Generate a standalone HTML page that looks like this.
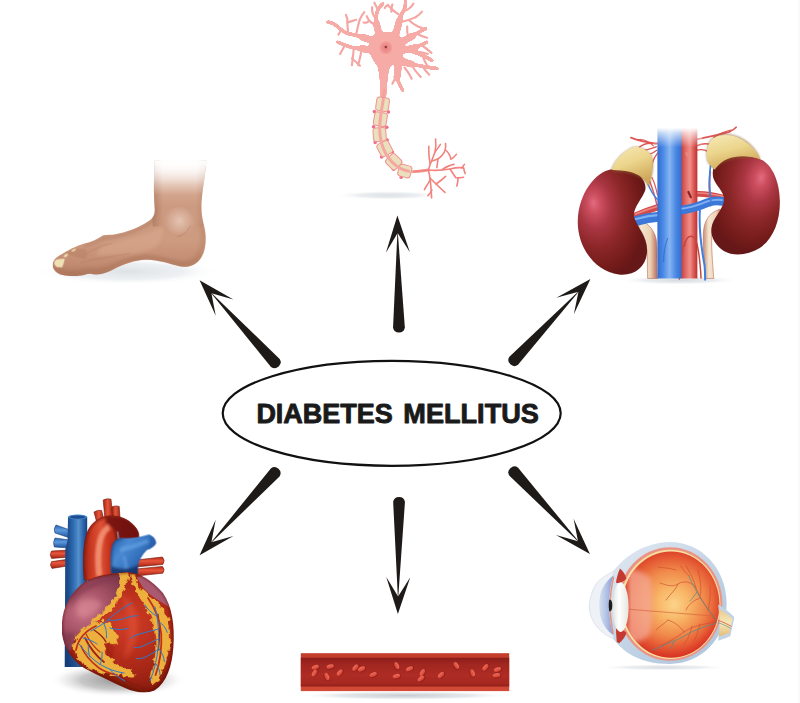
<!DOCTYPE html>
<html lang="en">
<head>
<meta charset="utf-8">
<title>Diabetes Mellitus</title>
<style>
html,body{margin:0;padding:0;background:#fff;}
body{width:800px;height:703px;overflow:hidden;position:relative;}
svg{position:absolute;left:0;top:0;display:block;}
text{font-family:"Liberation Sans",sans-serif;font-weight:bold;}
</style>
</head>
<body>
<svg width="800" height="703" viewBox="0 0 800 703">
<defs>
<g id="arrow">
<path d="M1.5,0 L-35.5,12 L-16,0 L-35.5,-12 Z" fill="#1d1a18"/>
<path d="M-12,0 L-110.6,5.9 A6,6 0 0 1 -110.6,-5.9 Z" fill="#1d1a18"/>
</g>
</defs>
<rect width="800" height="703" fill="#fff"/>
<rect x="798" y="0" width="2" height="703" fill="#fafafa"/>

<!-- ARROWS -->
<g id="arrows">
<use href="#arrow" transform="translate(200.6,281.4) rotate(-132.5)"/>
<use href="#arrow" transform="translate(397.4,217) rotate(-90.8)"/>
<use href="#arrow" transform="translate(589.4,280.1) rotate(-46.8)"/>
<use href="#arrow" transform="translate(200.6,554.1) rotate(132.4)"/>
<use href="#arrow" transform="translate(397.9,612.5) rotate(90.6)"/>
<use href="#arrow" transform="translate(588.9,552.9) rotate(47.2)"/>
</g>

<!-- CENTER -->
<ellipse cx="391.7" cy="413.3" rx="169" ry="52.5" fill="#fff" stroke="#111" stroke-width="2.2"/>
<g font-size="27.6" fill="#1a1a1a" stroke="#1a1a1a" stroke-width="0.9" stroke-linejoin="round"><text x="256.4" y="423.4" textLength="136.4" lengthAdjust="spacingAndGlyphs">DIABETES</text><text x="403.3" y="423.4" textLength="135.6" lengthAdjust="spacingAndGlyphs">MELLITUS</text></g>

<!-- FOOT -->
<g id="foot" transform="translate(40,150) scale(0.225)">
<defs>
<radialGradient id="ftShadow" cx="0.5" cy="0.5" r="0.5">
<stop offset="0" stop-color="#cfd6dc" stop-opacity="0.95"/>
<stop offset="0.6" stop-color="#dde3e8" stop-opacity="0.7"/>
<stop offset="1" stop-color="#ffffff" stop-opacity="0"/>
</radialGradient>
<linearGradient id="ftSkin" gradientUnits="userSpaceOnUse" x1="0" y1="40" x2="0" y2="560">
<stop offset="0" stop-color="#ffffff"/>
<stop offset="0.08" stop-color="#f3e3da"/>
<stop offset="0.22" stop-color="#d9ae97"/>
<stop offset="0.4" stop-color="#cc9a80"/>
<stop offset="0.7" stop-color="#cd9b80"/>
<stop offset="0.9" stop-color="#c18b70"/>
<stop offset="1" stop-color="#b27a60"/>
</linearGradient>
<radialGradient id="ftAnkle" gradientUnits="userSpaceOnUse" cx="620" cy="315" r="70">
<stop offset="0" stop-color="#ecd0c2" stop-opacity="0.95"/>
<stop offset="1" stop-color="#ecd0c2" stop-opacity="0"/>
</radialGradient>
<linearGradient id="ftLegSide" gradientUnits="userSpaceOnUse" x1="505" y1="0" x2="740" y2="0">
<stop offset="0" stop-color="#a8735a" stop-opacity="0.55"/>
<stop offset="0.18" stop-color="#a8735a" stop-opacity="0"/>
<stop offset="0.8" stop-color="#a8735a" stop-opacity="0"/>
<stop offset="1" stop-color="#a8735a" stop-opacity="0.5"/>
</linearGradient>
<linearGradient id="ftLegFade" gradientUnits="userSpaceOnUse" x1="0" y1="45" x2="0" y2="200">
<stop offset="0" stop-color="#fff" stop-opacity="1"/>
<stop offset="0.3" stop-color="#fff" stop-opacity="0.75"/>
<stop offset="1" stop-color="#fff" stop-opacity="0"/>
</linearGradient>
<filter id="ftBlur" x="-20%" y="-20%" width="140%" height="140%"><feGaussianBlur stdDeviation="7"/></filter>
<clipPath id="ftClip"><path d="M510,45 C505,120 505,200 510,260 C512,290 500,305 480,318 C440,345 385,366 330,376 C305,380 290,374 272,384 C255,396 228,408 198,416 C162,425 122,448 92,466 C70,478 56,494 56,510 C56,532 74,550 100,556 C130,563 170,562 200,554 C215,549 226,550 242,553 C272,557 302,544 332,528 C372,507 420,490 470,488 C520,486 570,505 620,517 C660,525 695,512 715,480 C735,450 742,400 732,350 C722,310 715,280 718,230 C722,170 735,110 740,45 Z"/></clipPath>
</defs>
<ellipse cx="390" cy="540" rx="410" ry="60" fill="url(#ftShadow)" opacity="0.75"/>
<g clip-path="url(#ftClip)">
<rect x="40" y="40" width="720" height="540" fill="url(#ftSkin)"/>
<rect x="500" y="40" width="250" height="300" fill="url(#ftLegSide)"/>
<g filter="url(#ftBlur)"><!-- underside shadows -->
<path d="M58,510 C58,530 75,548 100,553 C130,560 170,558 200,550 C215,545 225,546 240,548 C270,552 300,540 330,525 C370,505 420,490 470,488 C520,486 570,505 620,517 C660,525 695,512 715,480 L715,450 C690,490 650,500 610,492 C560,482 510,462 460,465 C410,468 360,490 320,505 C290,520 260,530 235,526 C215,524 190,535 160,536 C120,538 80,530 58,510 Z" fill="#a9725a" opacity="0.55"/>
<path d="M510,260 C512,290 500,305 480,318 C440,345 380,368 320,380 C300,384 285,380 270,390 C250,402 225,412 195,420 L200,432 C240,420 270,405 300,398 C360,390 440,365 500,325 C520,310 525,280 522,250 Z" fill="#b07a62" opacity="0.5"/>
<!-- heel shading -->
<path d="M735,340 C745,400 740,460 700,505 C680,520 650,520 620,517 C660,500 700,470 710,420 C715,390 715,360 705,330 Z" fill="#b98368" opacity="0.5"/>
<!-- highlight top of foot -->
<path d="M300,420 C380,400 470,380 540,340 C560,380 540,430 470,450 C400,465 320,470 250,470 C250,450 270,430 300,420 Z" fill="#d9aa90" opacity="0.5"/>
</g><ellipse cx="620" cy="315" rx="70" ry="62" fill="url(#ftAnkle)" opacity="0.8"/>
<path d="M610,385 C640,375 660,360 668,335" fill="none" stroke="#a8745c" stroke-width="3" opacity="0.7"/>
<!-- toes -->
<path d="M110,460 C140,445 170,438 200,440 C215,450 215,470 200,485 C180,480 150,470 110,460 Z" fill="#b98268" opacity="0.6"/>
<path d="M180,500 C260,480 330,470 400,460" fill="none" stroke="#b07a60" stroke-width="4" opacity="0.45"/>
<path d="M215,455 C260,430 290,420 320,415" fill="none" stroke="#b07a60" stroke-width="4" opacity="0.45"/>
<rect x="40" y="40" width="720" height="170" fill="url(#ftLegFade)"/>
</g>
<!-- nails -->
<path d="M64,498 C66,490 74,486 84,485 L110,483 C108,496 104,510 99,521 L76,520 C68,518 62,508 64,498 Z" fill="#f0e0b6"/>
<path d="M104,474 C106,466 114,461 125,460 C124,467 120,473 114,477 Z" fill="#eedcb0"/>
<path d="M139,450 C142,443 150,439 161,439 C159,445 153,449 146,451 Z" fill="#eedcb0"/>
</g>

<!-- NEURON -->
<g id="neuron">
<defs>
<radialGradient id="nrShadow" cx="0.5" cy="0.5" r="0.5">
<stop offset="0" stop-color="#c9cfd5" stop-opacity="1"/>
<stop offset="0.55" stop-color="#d6dbe0" stop-opacity="0.8"/>
<stop offset="1" stop-color="#ffffff" stop-opacity="0"/>
</radialGradient>
<radialGradient id="nrNuc" cx="0.5" cy="0.5" r="0.5">
<stop offset="0" stop-color="#e8807f"/>
<stop offset="0.7" stop-color="#ef9391"/>
<stop offset="1" stop-color="#f4a6a2"/>
</radialGradient>
<filter id="nrGoo" x="-10%" y="-10%" width="120%" height="120%" color-interpolation-filters="sRGB"><feGaussianBlur in="SourceGraphic" stdDeviation="7" result="b"/><feColorMatrix in="b" mode="matrix" values="1 0 0 0 0  0 1 0 0 0  0 0 1 0 0  0 0 0 18 -7.5"/></filter>
</defs>
<ellipse cx="388" cy="195.3" rx="54" ry="4.5" fill="url(#nrShadow)" opacity="0.62"/>
<!-- soma + dendrites : zoom coords region [310,0]-scale 4.444 -->
<g transform="translate(310,0) scale(0.225)" fill="none" stroke="#f6aba7" stroke-linecap="round" stroke-linejoin="round">
<g stroke-width="9.5" stroke="#f5a6a2">
<path d="M170,150 C168,130 165,105 166,85 C164,78 162,72 160,66"/>
<path d="M205,156 C210,130 215,105 222,85 C228,72 235,62 241,54"/>
<path d="M140,132 C135,140 130,148 126,154"/>
<path d="M166,100 C180,95 195,92 205,88"/>
<path d="M155,200 C148,215 140,228 134,240"/>
<path d="M195,213 C192,240 190,265 186,290"/>
<path d="M230,220 C225,245 220,268 214,290"/>
<path d="M186,260 C200,270 210,280 222,292"/>
<path d="M294,85 C282,72 274,55 276,32"/>
<path d="M298,115 C280,108 262,98 252,72"/>
<path d="M302,42 C296,32 290,22 286,12"/>
<path d="M260,95 C255,100 245,102 238,100"/>
<path d="M402,70 C385,58 365,45 346,22"/>
<path d="M414,52 C432,46 448,38 460,16"/>
<path d="M396,100 C420,95 445,88 470,76"/>
<path d="M440,90 C450,100 465,110 480,118 C492,124 505,128 516,130"/>
<path d="M470,76 C480,70 490,62 498,52"/>
<path d="M438,168 C432,150 430,135 432,118"/>
<path d="M475,150 C490,158 505,165 520,168"/>
<path d="M495,200 C510,210 525,222 540,235"/>
<path d="M480,230 C495,232 510,236 524,240"/>
<path d="M500,245 C505,262 512,278 520,290"/>
<path d="M450,285 C460,305 475,325 492,342"/>
<path d="M500,295 C510,310 520,322 530,332"/>
<path d="M386,335 C378,348 372,360 366,372"/>
<path d="M420,300 C435,318 445,335 452,350"/>
<path d="M346,22 C340,25 335,30 332,36"/>
<path d="M362,52 C360,40 362,30 366,20"/>
</g>
<g filter="url(#nrGoo)"><!-- thick trunks -->
<g stroke-width="30">
<path d="M300,190 C280,180 260,172 235,166"/>
<path d="M290,225 C270,222 250,218 228,216"/>
<path d="M312,170 C305,145 298,125 296,105"/>
<path d="M375,170 C385,140 392,115 398,90"/>
<path d="M395,195 C415,182 435,172 455,160"/>
<path d="M400,225 C425,222 445,218 465,212"/>
<path d="M385,255 C405,270 425,280 450,285"/>
<path d="M388,268 C394,295 392,320 386,345"/>
</g>
<g stroke-width="15">
<path d="M235,166 C210,158 190,152 170,150 C150,146 130,125 110,108 C98,100 88,98 76,98"/>
<path d="M228,216 C200,215 175,210 155,200 C140,195 130,190 120,186"/>
<path d="M296,105 C292,85 294,60 302,42 C308,30 318,22 326,14"/>
<path d="M398,90 C402,70 410,55 420,40 C425,28 426,15 424,2"/>
<path d="M455,160 C475,150 495,135 516,126"/>
<path d="M465,212 C485,206 505,195 522,186"/>
<path d="M450,285 C480,292 520,298 568,306"/>
<path d="M386,345 C392,365 402,385 414,405"/>
<path d="M430,222 C470,232 510,250 545,270"/>
</g>
<!-- soma -->
<path d="M285,155 C310,138 360,138 390,155 C415,172 420,215 410,242 C400,268 372,280 354,298 C344,335 342,385 338,440 L314,440 C314,385 310,330 300,292 C282,272 268,248 266,222 C264,195 270,172 285,155 Z" fill="#f6aba7" stroke="none"/>
</g>
<circle cx="337" cy="212" r="30" fill="url(#nrNuc)" stroke="none"/>
<circle cx="337" cy="209" r="5.5" fill="#8e3c3c" stroke="none"/>
</g>
<!-- axon + terminal : region [330,90] scale 5 -->
<g transform="translate(330,90) scale(0.2)" fill="none" stroke-linecap="round" stroke-linejoin="round">
<path d="M272,0 C268,20 266,40 264,60 C250,140 230,230 280,320 C310,370 350,400 400,408 C430,410 460,405 490,400" stroke="#f5a19c" stroke-width="14"/>
<!-- terminal -->
<g stroke="#f2827e" stroke-width="8">
<path d="M420,408 C450,406 470,402 492,400 C530,404 570,400 600,395 C630,388 650,386 668,390"/>
<path d="M492,400 C500,370 515,340 525,310 C530,290 530,265 528,245"/>
<path d="M500,368 C495,340 492,310 494,282"/>
<path d="M525,310 C535,295 545,285 552,272"/>
<path d="M510,355 C530,350 550,340 562,325 C575,310 580,290 578,268"/>
<path d="M540,345 C538,360 536,375 534,388"/>
<path d="M578,300 C590,310 600,325 604,345"/>
<path d="M604,345 C615,340 625,332 632,322"/>
<path d="M560,398 C580,385 600,375 620,372"/>
<path d="M600,395 C610,410 620,425 628,438 C640,440 655,438 668,436"/>
<path d="M640,440 C640,455 638,468 634,480"/>
<path d="M668,390 C670,400 672,410 676,418"/>
<path d="M660,388 C664,382 668,378 672,372"/>
<path d="M492,400 C500,430 505,470 508,540"/>
<path d="M500,440 C520,460 545,485 575,512"/>
<path d="M500,450 C490,470 480,485 472,498"/>
<path d="M530,470 C545,460 560,450 578,432"/>
<path d="M510,500 C505,510 498,520 490,528"/>
</g>
<!-- myelin nodes -->
<g fill="#ee6f86" stroke="none">
<circle cx="222" cy="108" r="9"/><circle cx="292" cy="110" r="9"/>
<circle cx="218" cy="184" r="9"/><circle cx="284" cy="186" r="9"/>
<circle cx="226" cy="262" r="9"/><circle cx="286" cy="250" r="9"/>
<circle cx="258" cy="335" r="9"/><circle cx="312" cy="310" r="9"/>
<circle cx="318" cy="396" r="9"/><circle cx="352" cy="360" r="9"/>
<circle cx="356" cy="436" r="9"/>
</g>
<!-- myelin segments -->
<g stroke="#ef9491" stroke-width="5" fill="#ebe0bd">
<rect x="-32" y="-33" width="64" height="68" rx="15" transform="translate(263,70) rotate(8)"/>
<rect x="-32" y="-33" width="64" height="68" rx="15" transform="translate(252,145) rotate(10)"/>
<rect x="-32" y="-33" width="64" height="68" rx="15" transform="translate(248,222) rotate(-4)"/>
<rect x="-32" y="-33" width="64" height="68" rx="15" transform="translate(273,292) rotate(-28)"/>
<rect x="-32" y="-33" width="64" height="68" rx="15" transform="translate(318,358) rotate(-45)"/>
<rect x="-30" y="-32" width="60" height="64" rx="14" transform="translate(374,405) rotate(-75)"/>
</g>
<path d="M268,40 C250,140 230,230 280,320 C310,370 350,400 400,408" stroke="#f5a8a2" stroke-width="15" stroke-linecap="butt"/>
</g>
</g>
<!-- KIDNEYS -->
<g id="kidneys" transform="translate(570,110) scale(0.2875)">
<defs>
<radialGradient id="kdShadow" cx="0.5" cy="0.5" r="0.5">
<stop offset="0" stop-color="#cfd5da" stop-opacity="0.9"/>
<stop offset="0.6" stop-color="#dfe3e7" stop-opacity="0.6"/>
<stop offset="1" stop-color="#ffffff" stop-opacity="0"/>
</radialGradient>
<linearGradient id="kdVein" gradientUnits="userSpaceOnUse" x1="303" y1="0" x2="390" y2="0">
<stop offset="0" stop-color="#2f6bd0"/>
<stop offset="0.25" stop-color="#4c8be6"/>
<stop offset="0.5" stop-color="#86b4f2"/>
<stop offset="0.75" stop-color="#4a88e4"/>
<stop offset="1" stop-color="#2f6bd0"/>
</linearGradient>
<linearGradient id="kdArt" gradientUnits="userSpaceOnUse" x1="385" y1="0" x2="443" y2="0">
<stop offset="0" stop-color="#c23a3a"/>
<stop offset="0.3" stop-color="#e06a66"/>
<stop offset="0.55" stop-color="#f08f86"/>
<stop offset="0.8" stop-color="#d95552"/>
<stop offset="1" stop-color="#b93232"/>
</linearGradient>
<linearGradient id="kdTopFade" gradientUnits="userSpaceOnUse" x1="0" y1="62" x2="0" y2="130">
<stop offset="0" stop-color="#fff" stop-opacity="1"/>
<stop offset="0.25" stop-color="#fff" stop-opacity="0.7"/>
<stop offset="1" stop-color="#fff" stop-opacity="0"/>
</linearGradient>
<radialGradient id="kdL" gradientUnits="userSpaceOnUse" cx="0" cy="0" r="1" fx="-0.05" fy="-0.05" gradientTransform="translate(92,335) rotate(-8) scale(170,250)">
<stop offset="0" stop-color="#e26a80"/>
<stop offset="0.14" stop-color="#cb4d5d"/>
<stop offset="0.34" stop-color="#a93642"/>
<stop offset="0.6" stop-color="#8b2627"/>
<stop offset="0.85" stop-color="#751c1b"/>
<stop offset="1" stop-color="#661717"/>
</radialGradient>
<radialGradient id="kdR" gradientUnits="userSpaceOnUse" cx="0" cy="0" r="1" fx="0.05" fy="-0.05" gradientTransform="translate(655,245) rotate(12) scale(165,250)">
<stop offset="0" stop-color="#e26a80"/>
<stop offset="0.14" stop-color="#cb4d5d"/>
<stop offset="0.34" stop-color="#a93642"/>
<stop offset="0.6" stop-color="#8b2627"/>
<stop offset="0.85" stop-color="#751c1b"/>
<stop offset="1" stop-color="#661717"/>
</radialGradient>
<linearGradient id="kdAdr" x1="0" y1="0" x2="0.4" y2="1">
<stop offset="0" stop-color="#f6ebb8"/>
<stop offset="0.5" stop-color="#ecd58c"/>
<stop offset="1" stop-color="#cfa85a"/>
</linearGradient>
<linearGradient id="kdUr" x1="0" y1="0" x2="1" y2="0">
<stop offset="0" stop-color="#c98a70"/>
<stop offset="0.3" stop-color="#f5e6d0"/>
<stop offset="0.7" stop-color="#ecd2b4"/>
<stop offset="1" stop-color="#b86a5a"/>
</linearGradient>
<filter id="kdBlur2" x="-30%" y="-30%" width="160%" height="160%"><feGaussianBlur stdDeviation="4"/></filter>
<filter id="kdBlur" x="-30%" y="-30%" width="160%" height="160%"><feGaussianBlur stdDeviation="10"/></filter>
</defs>
<ellipse cx="380" cy="592" rx="210" ry="16" fill="url(#kdShadow)"/>
<!-- ureters -->
<path d="M228,378 C262,385 292,410 300,450 C306,490 300,540 304,586 L270,586 C268,540 272,495 262,455 C254,425 240,410 222,400 Z" fill="url(#kdUr)" stroke="#b5695a" stroke-width="2"/>
<path d="M522,345 C495,352 470,375 465,415 C460,460 468,530 470,586 L500,586 C496,530 490,465 494,425 C498,395 510,378 528,368 Z" fill="url(#kdUr)" stroke="#b5695a" stroke-width="2"/>
<!-- small vessels to adrenals / kidneys -->
<g fill="none" stroke="#de5755" stroke-linecap="round">
<path d="M385,112 C340,120 290,118 250,108 C235,104 222,100 212,96" stroke-width="6"/>
<path d="M300,118 C275,112 255,118 240,130" stroke-width="5"/>
<path d="M300,128 C280,135 262,142 248,140" stroke-width="5"/>
<path d="M302,140 C288,150 275,158 262,156" stroke-width="5"/>
<path d="M305,150 C292,165 284,185 282,210" stroke-width="5"/>
<path d="M290,125 C270,105 250,100 235,104" stroke-width="4"/>
<path d="M274,240 C286,270 296,300 302,330" stroke-width="5"/>
<path d="M285,235 C295,255 300,275 304,295" stroke-width="4"/>
<path d="M440,102 C480,94 520,86 555,76 C565,71 572,66 578,60" stroke-width="6"/>
<path d="M440,125 C460,116 478,116 492,122" stroke-width="5"/>
<path d="M440,140 C455,136 470,138 482,146" stroke-width="5"/>
<path d="M500,95 C520,82 540,74 560,70" stroke-width="4"/>
<path d="M488,215 C484,245 482,275 488,300" stroke-width="6"/>
</g>
<!-- renal arteries -->
<path d="M390,318 C350,325 290,340 225,368" fill="none" stroke="#d24b4a" stroke-width="22" stroke-linecap="round"/>
<path d="M390,316 C350,322 290,336 228,362" fill="none" stroke="#ee8580" stroke-width="6" stroke-linecap="round"/>
<path d="M438,292 C470,290 500,296 535,305" fill="none" stroke="#d24b4a" stroke-width="20" stroke-linecap="round"/>
<path d="M438,289 C470,287 500,293 535,301" fill="none" stroke="#ee8580" stroke-width="5" stroke-linecap="round"/>
<!-- aorta -->
<rect x="385" y="62" width="58" height="524" fill="url(#kdArt)"/>
<path d="M398,475 C402,440 422,428 436,450 C446,470 452,520 456,586" fill="none" stroke="#c4453d" stroke-width="5"/>
<path d="M395,470 C388,500 386,540 380,590" fill="none" stroke="#c8473f" stroke-width="5"/>
<path d="M412,285 l8,18" stroke="#8d2626" stroke-width="8" stroke-linecap="round"/>
<path d="M405,150 l8,14" stroke="#e88a80" stroke-width="8" stroke-linecap="round"/>
<!-- renal veins -->
<path d="M320,370 C290,372 255,378 222,388" fill="none" stroke="#3b78d8" stroke-width="34" stroke-linecap="round"/>
<path d="M320,364 C290,366 255,372 226,380" fill="none" stroke="#7fb0f2" stroke-width="8" stroke-linecap="round"/>
<path d="M370,350 C410,348 450,335 480,322 C500,315 515,315 530,318" fill="none" stroke="#3b78d8" stroke-width="30" stroke-linecap="round"/>
<path d="M370,345 C410,343 450,330 480,317 C500,311 515,311 528,313" fill="none" stroke="#7fb0f2" stroke-width="7" stroke-linecap="round"/>
<path d="M452,345 C448,400 455,470 468,540 C470,560 470,575 470,590" fill="none" stroke="#3f7fe0" stroke-width="7" stroke-linecap="round"/>
<!-- vena cava -->
<rect x="304" y="62" width="84" height="524" fill="url(#kdVein)"/>
<path d="M340,445 C330,470 325,500 326,530" fill="none" stroke="#2f60b8" stroke-width="2.5"/>
<g fill="none" stroke="#3f7fe0" stroke-linecap="round">
<path d="M270,255 C280,280 292,300 305,312" stroke-width="5"/>
<path d="M495,165 C485,200 482,250 490,320" stroke-width="6"/>
<path d="M486,185 C492,175 498,170 505,166" stroke-width="4"/>
</g>
<!-- kidneys -->
<path d="M145,206 C88,215 30,290 27,385 C25,470 80,560 170,572 C225,578 266,545 268,492 C270,445 238,412 224,376 C214,345 250,312 262,278 C268,252 240,212 200,203 C180,199 162,201 145,206 Z" fill="url(#kdL)"/>
<path d="M510,185 C550,155 620,150 670,175 C710,200 730,260 730,320 C730,390 705,450 660,480 C620,505 570,510 535,490 C505,470 488,440 492,410 C497,375 530,350 536,315 C538,285 505,262 498,235 C494,212 498,195 510,185 Z" fill="url(#kdR)"/>
<!-- adrenal glands -->
<path d="M143,212 C150,180 182,148 212,132 C235,120 266,136 284,158 C294,185 288,228 274,270 C264,246 240,230 210,222 C186,216 165,216 143,212 Z" fill="#8a5a2a" opacity="0.6" filter="url(#kdBlur2)"/>
<path d="M145,208 C152,178 184,146 214,131 C236,121 266,137 284,158 C293,185 286,225 272,264 C262,240 240,224 210,216 C188,210 166,211 145,208 Z" fill="url(#kdAdr)"/>
<path d="M476,172 C472,140 478,112 498,96 C530,76 572,82 604,102 C630,118 650,140 662,168 C625,164 582,166 552,176 C532,182 516,192 503,206 C492,198 480,186 476,172 Z" fill="#8a5a2a" opacity="0.6" filter="url(#kdBlur2)"/>
<path d="M477,172 C473,140 479,113 499,98 C530,80 571,85 602,105 C630,122 650,145 664,172 C625,158 580,158 548,170 C530,177 515,190 503,208 C492,198 481,186 477,172 Z" fill="url(#kdAdr)"/>
<!-- top fade for vessels -->
<rect x="290" y="55" width="170" height="80" fill="url(#kdTopFade)"/>
</g>

<!-- HEART -->
<g id="heart" transform="translate(40,490) scale(0.2)">
<defs>
<radialGradient id="htShadow" cx="0.5" cy="0.5" r="0.5">
<stop offset="0" stop-color="#8f8f8f" stop-opacity="0.95"/>
<stop offset="0.55" stop-color="#b5b5b5" stop-opacity="0.75"/>
<stop offset="0.8" stop-color="#dcdcdc" stop-opacity="0.4"/>
<stop offset="1" stop-color="#ffffff" stop-opacity="0"/>
</radialGradient>
<linearGradient id="htSvc" gradientUnits="userSpaceOnUse" x1="138" y1="0" x2="238" y2="0">
<stop offset="0" stop-color="#1c4a88"/>
<stop offset="0.3" stop-color="#2f6eb4"/>
<stop offset="0.55" stop-color="#5590cc"/>
<stop offset="0.8" stop-color="#2a62a8"/>
<stop offset="1" stop-color="#173f7a"/>
</linearGradient>
<linearGradient id="htSvcDark" gradientUnits="userSpaceOnUse" x1="0" y1="500" x2="0" y2="885"><stop offset="0" stop-color="#12326a" stop-opacity="0"/><stop offset="1" stop-color="#12326a" stop-opacity="0.6"/></linearGradient>
<linearGradient id="htBlueStub" x1="0" y1="0" x2="0" y2="1">
<stop offset="0" stop-color="#2a64b0"/>
<stop offset="0.4" stop-color="#5c98dc"/>
<stop offset="1" stop-color="#1d5098"/>
</linearGradient>
<linearGradient id="htRedStub" x1="0" y1="0" x2="0" y2="1">
<stop offset="0" stop-color="#b52a18"/>
<stop offset="0.4" stop-color="#e8553a"/>
<stop offset="1" stop-color="#a42314"/>
</linearGradient>
<linearGradient id="htAorta" gradientUnits="userSpaceOnUse" x1="218" y1="0" x2="500" y2="0">
<stop offset="0" stop-color="#a32414"/>
<stop offset="0.15" stop-color="#cc3c24"/>
<stop offset="0.3" stop-color="#dd5236"/>
<stop offset="0.45" stop-color="#c6341e"/>
<stop offset="0.7" stop-color="#9c2012"/>
<stop offset="1" stop-color="#7e170c"/>
</linearGradient>
<linearGradient id="htBr" x1="0" y1="0" x2="1" y2="0">
<stop offset="0" stop-color="#a52414"/>
<stop offset="0.45" stop-color="#e5553a"/>
<stop offset="1" stop-color="#9c2012"/>
</linearGradient>
<linearGradient id="htPulm" gradientUnits="userSpaceOnUse" x1="355" y1="250" x2="560" y2="400">
<stop offset="0" stop-color="#2a62ae"/>
<stop offset="0.3" stop-color="#4a8ad2"/>
<stop offset="0.6" stop-color="#3672bd"/>
<stop offset="1" stop-color="#1a4688"/>
</linearGradient>
<radialGradient id="htVent" gradientUnits="userSpaceOnUse" cx="430" cy="660" r="420">
<stop offset="0" stop-color="#d03f28"/>
<stop offset="0.35" stop-color="#bb301d"/>
<stop offset="0.7" stop-color="#9c2314"/>
<stop offset="1" stop-color="#78160c"/>
</radialGradient>
<radialGradient id="htAtr" gradientUnits="userSpaceOnUse" cx="220" cy="600" r="230">
<stop offset="0" stop-color="#c87486"/>
<stop offset="0.5" stop-color="#a85468"/>
<stop offset="1" stop-color="#7e384b"/>
</radialGradient>
<filter id="htBlur" x="-30%" y="-30%" width="160%" height="160%"><feGaussianBlur stdDeviation="12"/></filter>
<filter id="htBlur2" x="-30%" y="-30%" width="160%" height="160%"><feGaussianBlur stdDeviation="5"/></filter>
<filter id="htRough" x="-10%" y="-10%" width="120%" height="120%"><feTurbulence type="fractalNoise" baseFrequency="0.035" numOctaves="2" seed="4" result="n"/><feDisplacementMap in="SourceGraphic" in2="n" scale="38" xChannelSelector="R" yChannelSelector="G"/></filter>
<clipPath id="htAoClip"><path d="M222,450 C215,380 215,300 228,240 C240,180 280,140 340,130 C400,125 450,150 480,190 C495,210 498,230 492,250 L380,260 L370,450 Z"/></clipPath>
<clipPath id="htPuClip"><path d="M356,420 C352,370 350,320 360,280 C368,255 385,240 410,240 C450,245 500,235 545,222 C570,232 582,250 580,268 C570,285 550,295 535,300 C510,325 495,350 490,380 L488,430 Z"/></clipPath>
<clipPath id="htClip"><path d="M110,660 C115,590 150,510 230,455 C290,425 360,415 440,410 C500,415 560,450 615,515 C660,580 675,680 667,785 C660,880 635,962 572,1003 C532,1020 476,1014 425,990 C360,960 290,928 220,890 C160,852 120,790 110,720 Z"/></clipPath>
</defs>
<!-- shadow -->
<ellipse cx="390" cy="950" rx="340" ry="85" fill="url(#htShadow)"/>
<!-- left stubs -->
<g stroke="#173f7a" stroke-width="3" stroke-linejoin="round">
<path d="M80,175 L150,200 L150,240 L75,215 Q65,195 80,175 Z" fill="url(#htBlueStub)"/>
<path d="M75,240 L150,250 L150,290 L72,285 Q62,262 75,240 Z" fill="url(#htBlueStub)"/></g>
<g stroke="#6e150c" stroke-width="3" stroke-linejoin="round">
<path d="M58,305 L150,300 L150,335 L58,342 Q45,323 58,305 Z" fill="url(#htRedStub)"/>
<path d="M58,358 L150,345 L150,378 L60,392 Q46,375 58,358 Z" fill="url(#htRedStub)"/></g>
<!-- SVC -->
<path d="M140,135 L138,250 L126,300 L124,885 L236,885 L236,135 Z" fill="url(#htSvc)"/>
<path d="M124,500 L124,885 L236,885 L236,500 Z" fill="url(#htSvcDark)"/>
<ellipse cx="188" cy="135" rx="48" ry="13" fill="#3f80c8"/>
<ellipse cx="188" cy="136" rx="38" ry="8" fill="#1c4d90"/>
<!-- right red stubs -->
<g stroke="#6e150c" stroke-width="3" stroke-linejoin="round">
<path d="M480,350 L612,335 Q628,352 614,372 L480,385 Z" fill="url(#htRedStub)"/>
<path d="M480,395 L612,382 Q628,398 614,416 L480,430 Z" fill="url(#htRedStub)"/></g>
<!-- aorta branches -->
<g stroke="#6e150c" stroke-width="3" stroke-linejoin="round"><path d="M270,110 Q288,98 308,102 L324,165 L286,170 Z" fill="url(#htBr)"/>
<path d="M316,50 Q335,40 355,46 L366,155 L326,160 Z" fill="url(#htBr)"/>
<path d="M360,84 Q378,76 396,82 L402,165 L364,165 Z" fill="url(#htBr)"/></g>
<!-- aorta -->
<path d="M222,450 C215,380 215,300 228,240 C240,180 280,140 340,130 C400,125 450,150 480,190 C495,210 498,230 492,250 L380,260 L370,450 Z" fill="url(#htAorta)" stroke="#6e150c" stroke-width="3"/>
<g clip-path="url(#htAoClip)">
<g filter="url(#htBlur2)">
<path d="M330,130 C400,125 450,150 480,190 C495,210 498,230 492,250 L380,260 C385,220 370,180 330,165 Z" fill="#6a120a" opacity="0.8"/>
<path d="M222,450 C215,380 215,300 228,240 C240,180 280,140 340,130" fill="none" stroke="#7a170d" stroke-width="16" opacity="0.7"/>
<path d="M296,430 C288,360 288,300 301,250 C311,215 326,195 346,185" fill="none" stroke="#f59a7c" stroke-width="30" opacity="0.8"/>
<path d="M372,450 C366,380 366,320 372,270" fill="none" stroke="#7a170d" stroke-width="20" opacity="0.6"/>
</g></g>
<!-- pulmonary artery -->
<path d="M356,420 C352,370 350,320 360,280 C368,255 385,240 410,240 C450,245 500,235 545,222 C570,232 582,250 580,268 C570,285 550,295 535,300 C510,325 495,350 490,380 L488,430 Z" fill="url(#htPulm)"/>
<g clip-path="url(#htPuClip)"><g filter="url(#htBlur2)">
<path d="M350,440 L350,380 C400,400 450,400 500,370 L500,440 Z" fill="#0f2a5c" opacity="0.75"/>
<path d="M356,420 C352,370 350,320 360,280 C368,255 385,240 410,240" fill="none" stroke="#173f7d" stroke-width="14" opacity="0.7"/>
<path d="M400,300 C440,290 490,275 540,255" fill="none" stroke="#6aa6ea" stroke-width="22" opacity="0.6"/>
<path d="M420,330 C425,350 430,370 432,390" fill="none" stroke="#6aa6ea" stroke-width="18" opacity="0.5"/>
</g>
<path d="M548,224 C572,236 584,252 580,268 C572,282 556,292 540,298 C552,276 556,250 548,224 Z" fill="#2a62ae" opacity="0.8"/>
</g>
<path d="M388,210 L392,240" stroke="#9aa8b8" stroke-width="6" stroke-linecap="round"/>
<!-- heart body -->
<g clip-path="url(#htClip)">
<rect x="90" y="400" width="600" height="630" fill="url(#htVent)"/>
<!-- ventricle shading -->
<g filter="url(#htBlur)">
<path d="M665,600 C690,700 680,850 620,950 C600,980 570,1000 540,1005 L700,1040 L720,560 Z" fill="#5c0f08" opacity="0.6"/>
<path d="M300,880 C380,930 460,980 540,1000 L540,1040 L250,1040 Z" fill="#6a120a" opacity="0.5"/>
<path d="M400,520 C440,580 450,660 440,740 C435,780 425,820 420,850 C450,820 480,770 488,700 C492,620 470,560 400,520 Z" fill="#e8583c" opacity="0.5"/>
<path d="M330,700 C360,760 350,820 340,850" fill="none" stroke="#7c160c" stroke-width="22" opacity="0.45"/>
</g>
<!-- atria -->
<path d="M100,760 C95,700 115,590 150,515 C190,460 290,425 405,420 C412,455 404,495 388,530 C368,570 335,612 295,648 C255,678 215,698 190,718 C170,745 160,775 152,805 C125,795 105,780 100,760 Z" fill="url(#htAtr)"/>
<path d="M485,435 C520,425 565,445 600,490 C625,522 640,555 645,585 C615,565 580,545 550,522 C522,500 500,470 485,435 Z" fill="#a95a70"/>
<g filter="url(#htBlur)" opacity="0.6">
<path d="M150,520 C200,470 290,440 390,430 C370,450 300,470 240,500 C200,520 170,560 150,600 Z" fill="#7c3248"/>
<path d="M105,700 C110,750 130,790 150,800 C155,770 165,740 185,710 C160,720 130,720 105,700 Z" fill="#7c3248"/>
<path d="M200,560 C240,540 290,540 310,570 C290,610 240,640 200,640 C180,620 180,580 200,560 Z" fill="#d98a98"/>
</g>
<!-- fat -->
<g fill="#edb03c" stroke="#edb03c" stroke-width="2" stroke-linejoin="round" filter="url(#htRough)">
<path d="M398,420 C410,416 432,416 442,422 C438,445 430,465 422,485 C414,510 402,535 387,560 C370,585 347,608 322,628 C302,645 277,660 257,672 C247,668 250,655 262,645 C292,625 327,600 352,570 C372,545 387,515 394,485 C398,462 398,440 398,420 Z"/>
<path d="M452,425 C468,430 478,445 486,462 C496,485 520,505 545,525 C590,555 628,605 642,655 C652,705 652,760 642,810 C632,860 612,910 588,955 C576,972 560,975 548,962 C555,930 566,895 572,860 C578,820 580,780 576,740 C572,700 566,665 552,630 C540,595 520,565 500,540 C480,510 462,470 452,425 Z"/>
<path d="M165,780 C170,745 190,715 225,690 C250,672 280,660 310,655 C335,655 355,665 368,690 C380,715 388,745 382,765 C370,775 350,768 335,760 C320,775 318,795 328,815 C345,845 375,870 415,888 C445,898 470,910 478,930 C465,942 435,935 405,925 C385,935 355,930 335,912 C315,925 290,915 272,895 C252,900 228,885 218,865 C198,855 182,835 176,815 C168,805 163,792 165,780 Z"/>
</g>
<!-- dark gaps inside fat -->
<g fill="none" stroke="#9c2214" stroke-linecap="round">
<path d="M225,740 C250,790 280,830 320,860" stroke-width="9"/>
<path d="M270,700 C300,720 320,740 330,760" stroke-width="7"/>
<path d="M590,620 C600,680 600,740 592,800" stroke-width="6"/>
</g>
<!-- arteries on fat -->
<g fill="none" stroke="#bf2f1a" stroke-linecap="round">
<path d="M180,800 C190,750 225,705 280,680" stroke-width="9"/>
<path d="M205,780 C225,830 255,860 295,890 C325,910 355,920 385,925" stroke-width="8"/>
<path d="M540,540 C575,590 600,650 606,720 C610,790 600,860 578,925" stroke-width="9"/>
<path d="M230,720 C250,760 275,790 300,810" stroke-width="6"/>
</g>
<!-- veins -->
<g fill="none" stroke="#2a7bd0" stroke-linecap="round" stroke-width="5">
<path d="M255,705 C290,685 325,665 350,640 C385,610 420,585 460,565"/>
<path d="M340,650 C370,655 400,650 430,640 C450,632 470,630 485,628"/>
<path d="M350,690 C380,700 410,700 440,692"/>
<path d="M320,670 C330,690 335,715 332,740"/>
<path d="M195,770 C225,810 260,845 300,872 C340,895 380,910 420,915"/>
<path d="M250,835 C242,815 240,795 242,775"/>
<path d="M300,872 C310,850 312,830 310,810"/>
<path d="M350,898 C370,920 395,940 425,955"/>
<path d="M215,740 C240,745 265,755 285,770"/>
<path d="M575,585 C592,650 596,720 590,790 C585,850 570,905 550,955"/>
<path d="M592,695 C565,700 535,712 505,718 C485,722 465,732 450,742"/>
<path d="M592,745 C565,756 540,770 515,780 C500,786 485,790 472,788"/>
<path d="M588,800 C565,815 540,830 520,838 C505,844 492,845 482,842"/>
<path d="M596,660 C615,672 630,690 636,712"/>
<path d="M592,790 C610,810 620,835 622,858"/>
<path d="M582,630 C555,612 535,595 525,575"/>
<path d="M580,870 C595,890 600,910 600,925"/>
</g>
<!-- rim shading -->
<path d="M110,660 C115,590 150,510 230,455 C290,425 360,415 440,410 C500,415 560,450 615,515 C660,580 675,680 667,785 C660,880 635,962 572,1003 C532,1020 476,1014 425,990 C360,960 290,928 220,890 C160,852 120,790 110,720 Z" fill="none" stroke="#5a0e08" stroke-width="14" opacity="0.45" filter="url(#htBlur2)"/>
</g>
</g>
</g>

<!-- VESSEL -->
<g id="vessel">
<defs>
<radialGradient id="vsShadow" cx="0.5" cy="0.5" r="0.5">
<stop offset="0" stop-color="#c6ccd2" stop-opacity="1"/>
<stop offset="0.6" stop-color="#d9dde1" stop-opacity="0.7"/>
<stop offset="1" stop-color="#ffffff" stop-opacity="0"/>
</radialGradient>
<linearGradient id="vsWall" x1="0" y1="0" x2="0" y2="1">
<stop offset="0" stop-color="#c43c2b"/>
<stop offset="0.5" stop-color="#c8402e"/>
<stop offset="1" stop-color="#d34b36"/>
</linearGradient>
<linearGradient id="vsLumen" x1="0" y1="0" x2="0" y2="1">
<stop offset="0" stop-color="#8a1d19"/>
<stop offset="0.2" stop-color="#9f2620"/>
<stop offset="0.6" stop-color="#ae2c24"/>
<stop offset="0.9" stop-color="#a52821"/>
<stop offset="1" stop-color="#8f1f1a"/>
</linearGradient>
<linearGradient id="vsCell" x1="0" y1="0" x2="0" y2="1">
<stop offset="0" stop-color="#f0705c"/>
<stop offset="1" stop-color="#d43f32"/>
</linearGradient>
<g id="rbc"><ellipse cx="0.3" cy="0.5" rx="4.3" ry="2.6" fill="#7d1814" opacity="0.5"/><ellipse cx="0" cy="0" rx="3.8" ry="2.1" fill="url(#vsCell)"/></g>
</defs>
<ellipse cx="405" cy="695.5" rx="110" ry="4.5" fill="url(#vsShadow)"/>
<rect x="300.8" y="653.2" width="208.4" height="37.9" fill="url(#vsWall)"/>
<rect x="300.8" y="657.7" width="208.4" height="28.8" fill="url(#vsLumen)"/>
<g>
<use href="#rbc" transform="translate(315.3,667.3) rotate(-20)"/>
<use href="#rbc" transform="translate(330.2,666.5) rotate(-15)"/>
<use href="#rbc" transform="translate(314.5,673) rotate(-60)"/>
<use href="#rbc" transform="translate(326.8,676.5) rotate(65)"/>
<use href="#rbc" transform="translate(339.8,672.6) rotate(-50)"/>
<use href="#rbc" transform="translate(355.4,667.6) rotate(-50)"/>
<use href="#rbc" transform="translate(361.5,669) rotate(-25)"/>
<use href="#rbc" transform="translate(373.2,674.6) rotate(-20)"/>
<use href="#rbc" transform="translate(396.7,665.6) rotate(65)"/>
<use href="#rbc" transform="translate(409.5,668.8) rotate(-25)"/>
<use href="#rbc" transform="translate(396.4,676.2) rotate(-15)"/>
<use href="#rbc" transform="translate(422.5,672.5) rotate(-60)"/>
<use href="#rbc" transform="translate(421,678.5) rotate(-40)"/>
<use href="#rbc" transform="translate(441,675) rotate(-45)"/>
<use href="#rbc" transform="translate(456.3,665.5) rotate(55)"/>
<use href="#rbc" transform="translate(472.5,673) rotate(70)"/>
<use href="#rbc" transform="translate(485.5,667.3) rotate(-50)"/>
<use href="#rbc" transform="translate(497.5,669.5) rotate(-20)"/>
<use href="#rbc" transform="translate(496.5,675.3) rotate(-10)"/>
</g>
</g>

<!-- EYE -->
<g id="eye" transform="translate(580,530) scale(0.2)">
<defs>
<radialGradient id="eyShadow" cx="0.5" cy="0.5" r="0.5">
<stop offset="0" stop-color="#d3d8dd" stop-opacity="0.9"/>
<stop offset="0.6" stop-color="#e1e5e8" stop-opacity="0.6"/>
<stop offset="1" stop-color="#ffffff" stop-opacity="0"/>
</radialGradient>
<radialGradient id="eyVit" gradientUnits="userSpaceOnUse" cx="455" cy="360" r="275" fx="470" fy="375">
<stop offset="0" stop-color="#fcd48a"/>
<stop offset="0.3" stop-color="#f8b566"/>
<stop offset="0.6" stop-color="#f0884a"/>
<stop offset="0.82" stop-color="#e55a34"/>
<stop offset="1" stop-color="#d83324"/>
</radialGradient>
<linearGradient id="eyScl" x1="0" y1="0" x2="1" y2="1">
<stop offset="0" stop-color="#e6edf4"/>
<stop offset="0.45" stop-color="#c9d8e8"/>
<stop offset="1" stop-color="#a9c2da"/>
</linearGradient>
<linearGradient id="eyCor" gradientUnits="userSpaceOnUse" x1="45" y1="0" x2="165" y2="0">
<stop offset="0" stop-color="#f4f7fa"/>
<stop offset="0.3" stop-color="#e3ebf3"/>
<stop offset="0.55" stop-color="#c3d3ea"/>
<stop offset="0.8" stop-color="#a3b4e0"/>
<stop offset="1" stop-color="#8f9fd6"/>
</linearGradient>
<linearGradient id="eyCor2" gradientUnits="userSpaceOnUse" x1="95" y1="0" x2="165" y2="0"><stop offset="0" stop-color="#d5e0ef"/><stop offset="0.5" stop-color="#b4c4e6"/><stop offset="1" stop-color="#8d9cd4"/></linearGradient>
<linearGradient id="eyLens" x1="0" y1="0" x2="1" y2="0">
<stop offset="0" stop-color="#dfe3e0"/>
<stop offset="0.4" stop-color="#ffffff"/>
<stop offset="1" stop-color="#e6e6de"/>
</linearGradient>
<linearGradient id="eyNerve" x1="0" y1="0" x2="0" y2="1">
<stop offset="0" stop-color="#e9c98c"/>
<stop offset="0.5" stop-color="#f7e7b8"/>
<stop offset="1" stop-color="#e2bd7a"/>
</linearGradient>
<clipPath id="eyClip"><ellipse cx="455" cy="373" rx="242" ry="266"/></clipPath>
<filter id="eyBlur" x="-30%" y="-30%" width="160%" height="160%"><feGaussianBlur stdDeviation="12"/></filter>
</defs>
<ellipse cx="420" cy="687" rx="330" ry="16" fill="url(#eyShadow)"/>
<!-- outer contour: sclera + cornea -->
<path d="M448,60 C380,60 300,85 230,140 C200,165 180,190 165,207 C130,225 100,245 85,264 C65,290 50,335 46,377 C46,420 60,455 91,491 C110,512 135,530 165,543 C185,570 210,595 240,615 C300,655 375,670 448,670 C610,670 733,540 733,368 C733,195 610,60 448,60 Z" fill="url(#eyScl)"/>
<path d="M172,203 C130,225 100,245 85,264 C65,290 50,335 46,377 C46,420 60,455 91,491 C110,512 135,530 170,546 C152,490 146,440 146,375 C146,310 152,255 172,203 Z" fill="#eef2f7" stroke="#d3dce6" stroke-width="3"/>
<path d="M168,228 C135,250 112,285 102,320 C95,350 95,400 102,430 C112,470 135,505 166,525 C152,480 146,430 146,375 C146,320 152,270 168,228 Z" fill="url(#eyCor2)"/>
<ellipse cx="450" cy="370" rx="262" ry="284" fill="#eb9483"/>
<ellipse cx="452" cy="372" rx="250" ry="273" fill="#f6dfa0"/>
<ellipse cx="455" cy="373" rx="242" ry="266" fill="url(#eyVit)"/>
<g clip-path="url(#eyClip)">
<!-- ora serrata band -->
<path d="M235,190 C280,200 325,215 350,240 C365,300 365,450 350,520 C325,548 280,565 235,575 Z" fill="#f4a895" opacity="0.75" filter="url(#eyBlur)"/>
<path d="M560,600 C620,560 670,500 690,430 C700,380 700,330 690,290 L720,290 L720,640 Z" fill="#e0302a" opacity="0.55" filter="url(#eyBlur)"/>
<path d="M205,140 C228,200 240,280 240,375 C240,470 228,555 205,620 L190,620 L190,140 Z" fill="#d43b2c" opacity="0.8" filter="url(#eyBlur)"/>
<path d="M240,396 L690,432" stroke="#d4603a" stroke-width="4" opacity="0.8"/>
<!-- retinal vessels -->
<g fill="none" stroke="#cf4a30" stroke-width="3.5" stroke-linecap="round" opacity="0.9">
<path d="M680,450 C640,400 600,340 580,290 C560,260 520,250 490,270 C460,290 420,270 400,265"/>
<path d="M580,290 C570,250 550,210 530,180"/>
<path d="M600,330 C610,290 600,240 590,200"/>
<path d="M490,270 C480,300 450,320 430,350"/>
<path d="M680,460 C620,470 560,480 520,510 C480,540 440,560 400,580"/>
<path d="M520,510 C500,480 470,460 440,450"/>
<path d="M560,480 C550,520 540,550 520,570"/>
<path d="M480,200 C450,190 420,190 390,185"/>
<path d="M640,400 C650,360 655,320 650,280"/>
<path d="M600,340 C570,350 545,370 530,400"/>
<path d="M440,450 C420,470 400,480 380,500"/>
<path d="M600,470 C590,500 585,530 570,555"/>
<path d="M545,230 C530,215 515,200 505,180"/>
</g>
<g fill="none" stroke="#4a9090" stroke-width="4" stroke-linecap="round" opacity="0.9">
<path d="M685,455 C650,410 610,360 585,310 C570,280 550,250 545,230"/>
<path d="M585,310 C570,330 560,345 550,355"/>
<path d="M685,465 C630,480 570,500 520,530 C480,555 450,560 420,575 C400,585 380,595 360,600"/>
<path d="M470,555 C465,570 460,580 455,590"/>
</g>
</g>
<!-- optic nerve -->
<path d="M690,372 C720,388 748,410 772,436 L752,530 C730,540 710,548 690,554 C700,500 702,430 690,372 Z" fill="#c3d3e3"/>
<path d="M693,395 C720,408 742,424 762,444 L748,515 C728,522 710,528 694,532 C700,490 700,440 693,395 Z" fill="url(#eyNerve)"/>
<path d="M690,452 C715,460 738,471 757,482" fill="none" stroke="#d9503a" stroke-width="4"/>
<path d="M690,463 C715,471 736,482 754,492" fill="none" stroke="#4a9090" stroke-width="3"/>
<!-- ciliary body / iris -->
<path d="M200,192 C190,215 182,240 180,264 C196,268 216,260 232,244 C228,224 216,206 200,192 Z" fill="#c53a30"/>
<path d="M184,560 C182,538 180,514 180,494 C196,490 216,498 232,514 C228,534 214,550 196,566 Z" fill="#c53a30"/>
<path d="M168,235 C156,290 150,335 150,375 C150,415 155,460 166,520" fill="none" stroke="#e8907a" stroke-width="7"/>
<path d="M147,348 C157,348 162,362 162,378 C162,394 157,408 147,408 C143,394 142,362 147,348 Z" fill="#1f1d1c"/>
<!-- lens -->
<ellipse cx="203" cy="386" rx="40" ry="124" fill="url(#eyLens)"/>
</g>
</svg>
</body>
</html>
